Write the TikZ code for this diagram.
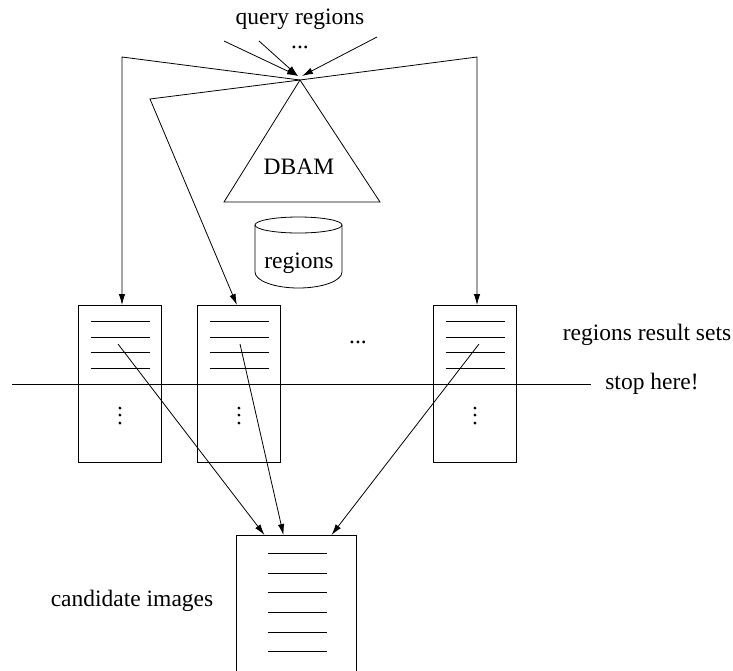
\documentclass[tikz,border=0pt]{standalone}
\usepackage{fontspec}
\setmainfont{Liberation Serif}
\usetikzlibrary{arrows.meta,calc}
\begin{document}
\begin{tikzpicture}[x=1pt,y=-1pt,line width=0.8pt,
  lbl/.style={inner sep=0pt,font=\fontsize{23.5}{26}\selectfont},
  arr/.style={-{Latex[length=11pt,width=6.5pt]}},
  resbox/.style={draw,rectangle,minimum width=83pt,minimum height=157pt,anchor=north west,inner sep=0pt},
  dotmark/.style={fill=black}]
\useasboundingbox (0,0) rectangle (733,670);

% query input
\node[lbl] (qr) at (300,19) {query regions};
\node[lbl] (qdots) at (300,47) {...};
\coordinate (q1) at (224,41);
\coordinate (q2) at (259,41);
\coordinate (q3) at (377,37);
\coordinate (apex) at (300,80);
\draw[arr] (q1) -- (298,76);
\draw[arr] (q2) -- (298,76);
\draw[arr] (q3) -- (302,76);

% DBAM access method (triangle)
\coordinate (tl) at (224,202);
\coordinate (tr) at (380,202);
\draw (apex) -- (tl) -- (tr) -- cycle;
\node[lbl] (dbam) at (299,167) {DBAM};

% region database (cylinder)
\draw (255,225) -- (255,272) arc[start angle=180,end angle=0,x radius=43.5,y radius=16]
      -- (342,225);
\draw (298.5,225) ellipse[x radius=43.5,y radius=8];
\node[lbl] (regdb) at (299,263) {regions};

% result sets
\node[resbox] (b1) at (78,305) {};
\node[resbox] (b2) at (197,305) {};
\node[resbox] (b3) at (433,305) {};
\foreach \b in {b1,b2,b3}{
  \foreach \dy in {16,32,47,63}
    \draw ([shift={(13,\dy)}]\b.north west) -- ([shift={(-12,\dy)}]\b.north east);
  \foreach \dy in {103,110,118}
    \fill[dotmark] ([shift={(0,\dy)}]\b.north) circle[radius=1.6];
}
\node[lbl] (mdots) at (358,342) {...};
\node[lbl] (rrs) at (647,335) {regions result sets};

% apex to result sets
\coordinate (k1) at (122,57);
\coordinate (k2) at (150,99);
\coordinate (k3) at (477,57);
\draw[arr] (apex) -- (k1) -- (k1 |- b1.north);
\draw[arr] (apex) -- (k2) -- ([xshift=-2pt]b2.north);
\draw[arr] (apex) -- (k3) -- (k3 |- b3.north);

% threshold line
\coordinate (sl) at (12,384);
\coordinate (sr) at (591,384);
\draw (sl) -- (sr);
\node[lbl] (stop) at (652,383.5) {stop here!};

% candidate images
\node[minimum width=119pt,minimum height=140pt,anchor=north,inner sep=0pt] (cand) at (296.5,535) {};
\draw (cand.south west) -- (cand.north west) -- (cand.north east) -- (cand.south east);
\foreach \dy in {18,38,57,77,97,116}
  \draw ([shift={(31,\dy)}]cand.north west) -- ([shift={(-29,\dy)}]cand.north east);
\node[lbl] (ci) at (132,601) {candidate images};

% result sets to candidates
\coordinate (s1) at (118,344);
\coordinate (s2) at (240,344);
\coordinate (s3) at (479,344);
\draw[arr] (s1) -- ([xshift=-32pt]cand.north);
\draw[arr] (s2) -- ([xshift=-13pt]cand.north);
\draw[arr] (s3) -- ([xshift=35pt]cand.north);
\end{tikzpicture}
\end{document}
